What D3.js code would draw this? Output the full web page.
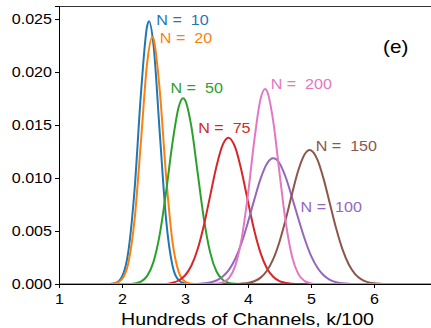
<!DOCTYPE html>
<html>
<head>
<meta charset="utf-8">
<script src="https://cdn.jsdelivr.net/npm/d3@7"></script>
<style>
  html, body { margin: 0; padding: 0; background: #fff; overflow: hidden; }
  svg { display: block; font-family: "Liberation Sans", Arial, sans-serif; }
  .tick text { font-size: 14px; fill: #000; }
  .nlabel { font-size: 14px; white-space: pre; }
</style>
</head>
<body>
<script>
// curve samples: [k/100, probability]
const n10 = [[1,0],[1.8,0],[1.9,0.00011],[2.0,0.0007],[2.1,0.00304],[2.2,0.00894],[2.3,0.0179],[2.4,0.02437],[2.43,0.0248],[2.5,0.02256],[2.6,0.0142],[2.7,0.00608],[2.8,0.00177],[2.9,0.00035],[3.0,0.00005],[3.1,0],[7,0]]
const n20 = [[1,0],[1.8,0],[1.9,0.00007],[2.0,0.00045],[2.1,0.00197],[2.2,0.0061],[2.3,0.01339],[2.4,0.02088],[2.48,0.0233],[2.5,0.02314],[2.6,0.01822],[2.7,0.01018],[2.8,0.00404],[2.9,0.00114],[3.0,0.00023],[3.1,0.00003],[3.2,0],[7,0]]
const n50 = [[1,0],[2.1,0],[2.2,0.00006],[2.3,0.00023],[2.4,0.00077],[2.5,0.00209],[2.6,0.0047],[2.7,0.00869],[2.8,0.01327],[2.9,0.01671],[2.97,0.01752],[3.0,0.01737],[3.1,0.01489],[3.2,0.01054],[3.3,0.00615],[3.4,0.00296],[3.5,0.00118],[3.6,0.00039],[3.7,0.0001],[3.8,0.00002],[3.9,0],[7,0]]
const n75 = [[1,0],[2.7,0],[2.8,0.00012],[2.9,0.00033],[3.0,0.0008],[3.1,0.00172],[3.2,0.00328],[3.3,0.00555],[3.4,0.00834],[3.5,0.01112],[3.6,0.01315],[3.69,0.0138],[3.8,0.01284],[3.9,0.0106],[4.0,0.00776],[4.1,0.00505],[4.2,0.00291],[4.3,0.00149],[4.4,0.00068],[4.5,0.00027],[4.6,0.0001],[4.7,0.00003],[4.8,0],[7,0]]
const n100 = [[1,0],[3.2,0],[3.3,0.00006],[3.4,0.00014],[3.5,0.00033],[3.6,0.0007],[3.7,0.00135],[3.8,0.00241],[3.9,0.00392],[4.0,0.00584],[4.1,0.00796],[4.2,0.00994],[4.3,0.01135],[4.4,0.01186],[4.5,0.0114],[4.6,0.01005],[4.7,0.00815],[4.8,0.00615],[4.9,0.00425],[5.0,0.00268],[5.1,0.00155],[5.2,0.00082],[5.3,0.0004],[5.4,0.00017],[5.5,0.00007],[5.6,0.00002],[5.7,0],[7,0]]
const n150 = [[1,0],[3.8,0],[3.9,0.00004],[4.0,0.0001],[4.1,0.00026],[4.2,0.0006],[4.3,0.00125],[4.4,0.00234],[4.5,0.00399],[4.6,0.00613],[4.7,0.00854],[4.8,0.01075],[4.9,0.01224],[4.98,0.01264],[5.0,0.01261],[5.1,0.01176],[5.2,0.00992],[5.3,0.00757],[5.4,0.00523],[5.5,0.00326],[5.6,0.00184],[5.7,0.00094],[5.8,0.00044],[5.9,0.00018],[6.0,0.00007],[6.1,0.00002],[6.2,0],[7,0]]
const n200 = [[1,0],[3.4,0],[3.5,0.00003],[3.6,0.00016],[3.7,0.00058],[3.8,0.00176],[3.9,0.0043],[4.0,0.00848],[4.1,0.01354],[4.2,0.01747],[4.27,0.0184],[4.3,0.01822],[4.4,0.01538],[4.5,0.01049],[4.6,0.00579],[4.7,0.00258],[4.8,0.00093],[4.9,0.00027],[5.0,0.00006],[5.1,0],[7,0]]

const seriesNames = ['N =  10', 'N =  20', 'N =  50', 'N =  75', 'N =  100', 'N =  150', 'N =  200']
const seriesData = [n10, n20, n50, n75, n100, n150, n200]
// where each "N = .." note sits, in data units
const labelX = [2.545, 2.6, 2.77, 3.21, 4.835, 5.075, 4.36]
const labelY = [0.02443, 0.02274, 0.01799, 0.01422, 0.00676, 0.01255, 0.0184]
const xTicks = [1, 2, 3, 4, 5, 6]
const yTicks = [0, 0.005, 0.010, 0.015, 0.020, 0.025]

const colors = ['#1f77b4', '#ff7f0e', '#2ca02c', '#d62728', '#9467bd', '#8c564b', '#e377c2']

// the reference text is a bit wider than Arial
const SX = 1.15

let w = 431,
    h = 328
let padLeft = 59, padBottom = 284, padTop = 6

let svg = d3.select('body').append('svg')
    .attr('width', w)
    .attr('height', h)

let x = d3.scaleLinear().domain([1, 7]).range([padLeft, 437])
let y = d3.scaleLinear().domain([0, 0.02623]).range([padBottom, padTop])

// place a text at (px, py), stretched horizontally
function wideText(sel, px, py) {
    return sel.attr('x', 0).attr('y', 0)
        .attr('transform', 'translate(' + px + ',' + py + ') scale(' + SX + ',1)')
}

// curves
let line = d3.line()
    .x(d => x(d[0]))
    .y(d => y(d[1]))
    .curve(d3.curveMonotoneX)

svg.append('g')
    .selectAll('path')
    .data(seriesData)
    .enter()
    .append('path')
    .attr('d', d => line(d))
    .attr('fill', 'none')
    .attr('stroke', (d, i) => colors[i])
    .attr('stroke-width', 2)

// labels
svg.append('g')
    .selectAll('text')
    .data(seriesNames)
    .enter()
    .append('text')
    .attr('class', 'nlabel')
    .attr('fill', (d, i) => colors[i])
    .attr('transform', (d, i) => 'translate(' + x(labelX[i]) + ',' + y(labelY[i]) + ') scale(' + SX + ',1)')
    .text(d => d)

// frame
svg.append('line')
    .attr('x1', padLeft).attr('x2', w)
    .attr('y1', padTop + 0.5).attr('y2', padTop + 0.5)
    .attr('stroke', '#333')

let xAxis = svg.append('g')
    .attr('transform', 'translate(0,' + padBottom + ')')
    .call(d3.axisBottom(x).tickValues(xTicks).tickFormat(d3.format('d')).tickSizeOuter(0).tickSize(4))
xAxis.select('.domain').attr('stroke', '#000')
xAxis.selectAll('.tick text').attr('dy', '0.9em').attr('transform', 'scale(' + SX + ',1)')

let yAxis = svg.append('g')
    .attr('transform', 'translate(' + padLeft + ',0)')
    .call(d3.axisLeft(y).tickValues(yTicks).tickFormat(d3.format('.3f')).tickSizeOuter(0).tickSize(4))
yAxis.select('.domain').attr('stroke', '#000')
yAxis.selectAll('.tick text').attr('x', -7 / SX).attr('transform', 'scale(' + SX + ',1)')

wideText(svg.append('text'), 247.5, 324.5)
    .attr('text-anchor', 'middle')
    .attr('font-size', 17)
    .text('Hundreds of Channels, k/100')

wideText(svg.append('text'), 383, 53)
    .attr('font-size', 18)
    .text('(e)')
</script>
</body>
</html>
